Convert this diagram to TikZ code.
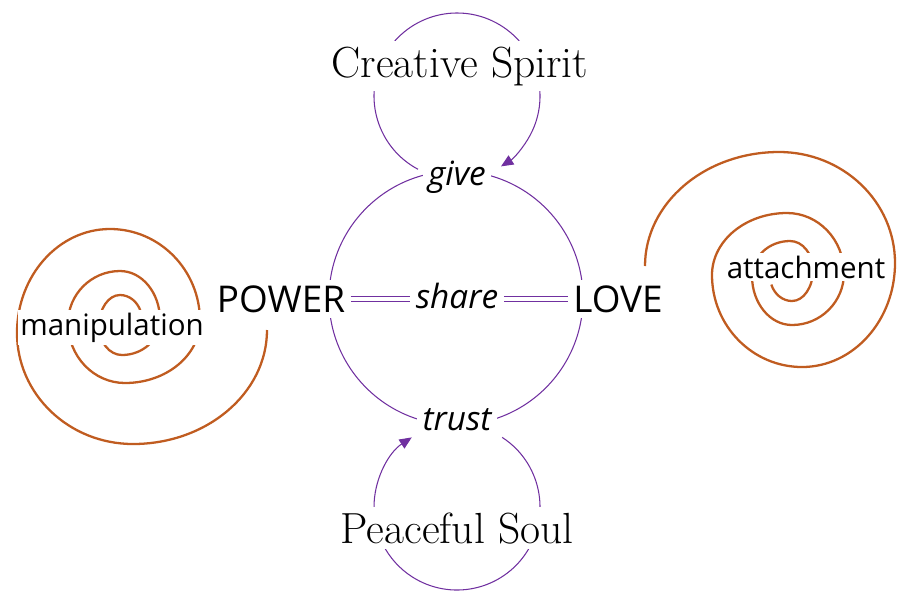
\documentclass[tikz,border=0pt]{standalone}
\usepackage{fontspec}
\setsansfont{Open Sans}
\usepackage{tikz}
\usetikzlibrary{arrows.meta}
\definecolor{ringpurple}{RGB}{112,48,160}
\definecolor{spiralbrown}{RGB}{192,92,32}

\begin{document}
\begin{tikzpicture}[x=0.02cm, y=0.02cm,
		ring/.style={draw=ringpurple, line width=0.6pt},
		loopline/.style={ring, -{Triangle[length=7pt, width=6pt]}},
		bond/.style={draw=ringpurple, line width=0.6pt, double, double distance=2.2pt},
		spiral/.style={draw=spiralbrown, line width=1.3pt},
		word/.style={fill=white, inner sep=3pt, anchor=base},
		big/.style={word, font=\sffamily\fontsize{21}{25}\selectfont},
		verb/.style={word, font=\sffamily\itshape\fontsize{19}{23}\selectfont},
		trap/.style={word, inner sep=1.5pt, font=\sffamily\fontsize{16.8}{20}\selectfont},
		spiritword/.style={word, font=\rmfamily\fontsize{24.8}{29}\selectfont}]
		    \begin{scope}
					\useasboundingbox (0,0) rectangle (909,-593);

					\coordinate (hub) at (456,-298);
					\coordinate (top) at (457,-96);
					\coordinate (bot) at (457,-507);

					\draw[ring] (hub) circle[radius=127];
					\draw[loopline] ([shift={(242:83)}]top) arc[start angle=242, end angle=-58, radius=83]; % da give a give
					\draw[loopline] ([shift={(57:83)}]bot) arc[start angle=57, end angle=-237, radius=83]; % da trust a trust

					\draw[spiral] (267,-330) arc[start angle=0, end angle=-90, x radius=134, y radius=114]
						arc[start angle=-90, end angle=-180, x radius=116, y radius=111]
						arc[start angle=-180, end angle=-270, x radius=93, y radius=104]
						arc[start angle=-270, end angle=-360, x radius=90, y radius=92]
						arc[start angle=0, end angle=-90, x radius=75, y radius=62]
						arc[start angle=-90, end angle=-180, x radius=57, y radius=60]
						arc[start angle=-180, end angle=-270, x radius=52, y radius=52]
						arc[start angle=-270, end angle=-360, x radius=40, y radius=49]
						arc[start angle=0, end angle=-90, x radius=38, y radius=35]
						arc[start angle=-90, end angle=-180, x radius=23, y radius=29]
						arc[start angle=-180, end angle=-270, x radius=21, y radius=31]
						arc[start angle=-270, end angle=-340, x radius=22, y radius=25]; % spirale di POWER
					\begin{scope}[rotate around={180:(hub)}]
						\draw[spiral] (267,-330) arc[start angle=0, end angle=-90, x radius=134, y radius=114]
							arc[start angle=-90, end angle=-180, x radius=116, y radius=111]
							arc[start angle=-180, end angle=-270, x radius=93, y radius=104]
							arc[start angle=-270, end angle=-360, x radius=90, y radius=92]
							arc[start angle=0, end angle=-90, x radius=75, y radius=62]
							arc[start angle=-90, end angle=-180, x radius=57, y radius=60]
							arc[start angle=-180, end angle=-270, x radius=52, y radius=52]
							arc[start angle=-270, end angle=-360, x radius=40, y radius=49]
							arc[start angle=0, end angle=-90, x radius=38, y radius=35]
							arc[start angle=-90, end angle=-180, x radius=23, y radius=29]
							arc[start angle=-180, end angle=-270, x radius=21, y radius=31]
							arc[start angle=-270, end angle=-340, x radius=22, y radius=25]; % spirale di LOVE
					\end{scope}

					\node[spiritword] (spirit) at (460,-77) {Creative Spirit};
					\node[verb] (give) at (457,-185) {give};
					\node[big] (power) at (281,-312) {POWER};
					\node[verb] (share) at (457,-308) {share};
					\node[big] (love) at (618,-312) {LOVE};
					\node[verb] (trust) at (457,-430) {trust};
					\node[spiritword] (soul) at (457,-543) {Peaceful Soul};
					\node[trap] (manip) at (112,-335) {manipulation};
					\node[trap] (attach) at (806,-278) {attachment};

					\draw[bond] (power.east) -- (power.east -| share.west); % da POWER a share
					\draw[bond] (love.west -| share.east) -- (love.west); % da share a LOVE

		    \end{scope}
		  \end{tikzpicture}
\end{document}
